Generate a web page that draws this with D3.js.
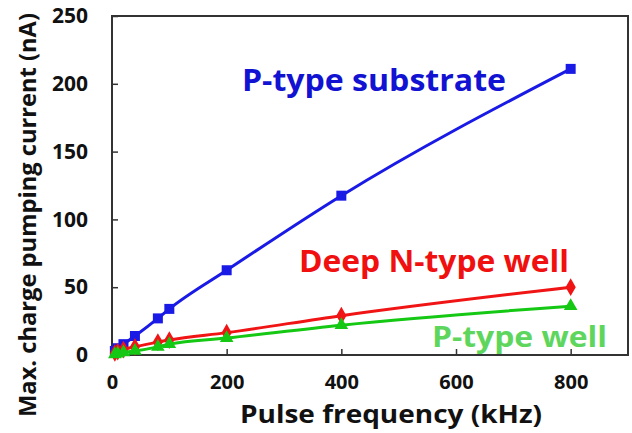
<!DOCTYPE html>
<html>
<head>
<meta charset="utf-8">
<script src="https://cdn.jsdelivr.net/npm/d3@7"></script>
<style>
  body { margin: 0; background: #fff; }
  text { font-family: "Open Sans", "DejaVu Sans", sans-serif; font-weight: bold; }
</style>
</head>
<body>
<svg id="chart" width="632" height="433"></svg>
<script>
// data
const freqs = [5, 10, 20, 40, 80, 100, 200, 400, 800];
const pSubstrate = [3, 5, 8, 14, 27, 34, 62.5, 117.5, 211];
const deepNWell = [1.5, 2.5, 4, 6, 9.5, 11, 16.5, 29, 50];
const pWell = [0.5, 1, 2, 3, 6, 8, 12.5, 22, 36];
const xTicks = [0, 200, 400, 600, 800];
const yTicks = [0, 50, 100, 150, 200, 250];

const plotLeft = 112, plotRight = 628, plotTop = 16, plotBottom = 355;

const svg = d3.select("#chart");

const xScale = d3.scaleLinear().domain([0, 900]).range([plotLeft, plotRight]);
const yScale = d3.scaleLinear().domain([0, 250]).range([plotBottom, plotTop]);

// frame
svg.append("rect")
  .attr("x", plotLeft).attr("y", plotTop)
  .attr("width", plotRight - plotLeft).attr("height", plotBottom - plotTop)
  .attr("fill", "none").attr("stroke", "#333").attr("stroke-width", 2);

// axes, ticks pointing inward
const xAxis = d3.axisBottom(xScale).tickValues(xTicks).tickSizeInner(-6).tickSizeOuter(0).tickPadding(20);
const yAxis = d3.axisLeft(yScale).tickValues(yTicks).tickSizeInner(-6).tickSizeOuter(0).tickPadding(24);

const gx = svg.append("g").attr("transform", `translate(0,${plotBottom})`).call(xAxis);
const gy = svg.append("g").attr("transform", `translate(${plotLeft},0)`).call(yAxis);
[gx, gy].forEach((g) => {
  g.select(".domain").remove();
  g.attr("font-family", null).attr("font-size", null);
  g.selectAll("line").attr("stroke", "#333").attr("stroke-width", 1.5);
  g.selectAll("text").attr("font-size", 21).attr("fill", "#111");
});
gx.selectAll("text").attr("font-size", 20);

// axis titles
svg.append("text")
  .attr("x", 240).attr("y", 423)
  .attr("font-size", 25).attr("fill", "#111")
  .attr("textLength", 302).attr("lengthAdjust", "spacingAndGlyphs")
  .text("Pulse frequency (kHz)");

svg.append("text")
  .attr("transform", "translate(36,215) rotate(-90)")
  .attr("text-anchor", "middle").attr("font-size", 24).attr("fill", "#111")
  .attr("textLength", 404).attr("lengthAdjust", "spacingAndGlyphs")
  .text("Max. charge pumping current (nA)");

const line = d3.line()
  .x((d) => xScale(d[0]))
  .y((d) => yScale(d[1]))
  .curve(d3.curveMonotoneX);

const series = [
  { name: "P-type substrate", values: pSubstrate, color: "#1a1ae6", symbol: d3.symbolSquare, size: 100 },
  { name: "Deep N-type well", values: deepNWell, color: "#f01414", symbol: d3.symbolDiamond, size: 90 },
  { name: "P-type well", values: pWell, color: "#14c814", symbol: d3.symbolTriangle, size: 80 },
];

series.forEach((s) => {
  const pts = freqs.map((f, i) => [f, s.values[i]]);
  svg.append("path")
    .attr("d", line(pts))
    .attr("fill", "none").attr("stroke", s.color).attr("stroke-width", 3);
  svg.append("g").selectAll("path")
    .data(pts).join("path")
    .attr("transform", (d) => `translate(${xScale(d[0])},${yScale(d[1])})`)
    .attr("d", d3.symbol().type(s.symbol).size(s.size))
    .attr("fill", s.color);
});

// series labels
const labels = [
  { text: "P-type substrate", x: 242, y: 91, len: 264, size: 31, color: "#1212d2" },
  { text: "Deep N-type well", x: 299, y: 272, len: 270, size: 30, color: "#f01010" },
  { text: "P-type well", x: 432, y: 347, len: 175, size: 29, color: "#5ed65e" },
];
labels.forEach((l) => {
  svg.append("text")
    .attr("x", l.x).attr("y", l.y)
    .attr("font-size", l.size).attr("fill", l.color)
    .attr("textLength", l.len).attr("lengthAdjust", "spacingAndGlyphs")
    .text(l.text);
});
</script>
</body>
</html>
